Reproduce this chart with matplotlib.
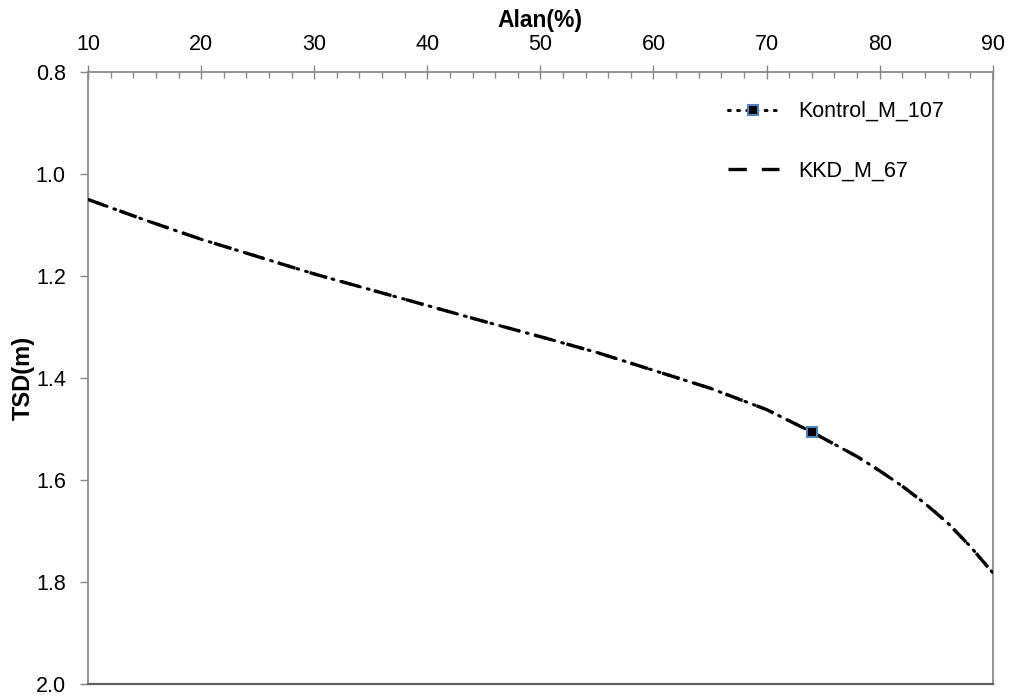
import numpy as np
import matplotlib.pyplot as plt
from matplotlib.ticker import MultipleLocator

plt.rcParams['font.family'] = ['Liberation Sans', 'DejaVu Sans']

# 数据
alan = [10, 15, 20, 25, 30, 35, 40, 45, 50, 55, 60, 65, 70, 74, 76, 78, 80, 82, 84, 86, 88, 90]
tsd_kontrol = [1.050, 1.090, 1.128, 1.162, 1.196, 1.227, 1.258, 1.289, 1.319,
               1.350, 1.385, 1.420, 1.462, 1.506, 1.530, 1.554, 1.582, 1.612,
               1.646, 1.684, 1.730, 1.782]
tsd_kkd = [1.050, 1.090, 1.128, 1.162, 1.196, 1.227, 1.258, 1.289, 1.319,
           1.350, 1.385, 1.420, 1.462, 1.506, 1.530, 1.554, 1.582, 1.612,
           1.646, 1.684, 1.730, 1.782]
marker_idx = [13]

fig = plt.figure(figsize=(10.12, 6.97), dpi=100)
ax = fig.add_axes([0.087, 0.0187, 0.894, 0.878])

ax.plot(alan, tsd_kkd, color='black', linewidth=2.4,
        linestyle=(0, (5.5, 4.5)), label='KKD_M_67', zorder=2)
ax.plot(alan, tsd_kontrol, color='black', linewidth=2.2,
        linestyle=(0, (0.6, 2.4)), dash_capstyle='round',
        marker='s', markevery=marker_idx, markersize=7,
        markerfacecolor='black', markeredgecolor='#4f81bd', markeredgewidth=1.5,
        label='Kontrol_M_107', zorder=3)

ax.set_xlim(10, 90)
ax.set_ylim(2.0, 0.8)

ax.xaxis.tick_top()
ax.xaxis.set_label_position('top')
ax.xaxis.set_major_locator(MultipleLocator(10))
ax.xaxis.set_minor_locator(MultipleLocator(2))
ax.yaxis.set_major_locator(MultipleLocator(0.2))
ax.yaxis.set_major_formatter(plt.FormatStrFormatter('%.1f'))

ax.tick_params(axis='x', which='major', direction='inout', length=10, width=1,
               color='#868686', labelsize=15.5, pad=7)
ax.tick_params(axis='x', which='minor', direction='in', length=4, width=1,
               color='#868686')
ax.tick_params(axis='y', which='major', direction='out', length=6, width=1,
               color='#868686', labelsize=15.5, pad=10)

for side in ['left', 'right', 'top']:
    ax.spines[side].set_color('#8a8a8a')
    ax.spines[side].set_linewidth(1.3)
ax.spines['bottom'].set_color('#606060')
ax.spines['bottom'].set_linewidth(1.6)

ax.set_xlabel('Alan(%)', fontsize=16.5, fontweight='bold', labelpad=5)
ax.set_ylabel('TSD(m)', fontsize=17, fontweight='bold', labelpad=1)

handles, labels = ax.get_legend_handles_labels()
fig.legend([handles[1], handles[0]], [labels[1], labels[0]],
           loc='upper left', bbox_to_anchor=(0.719, 0.855),
           frameon=False, fontsize=15.5, borderpad=0, borderaxespad=0,
           handlelength=2.4, handletextpad=0.9, labelspacing=1.8)

fig.savefig('out.png', dpi=100)
